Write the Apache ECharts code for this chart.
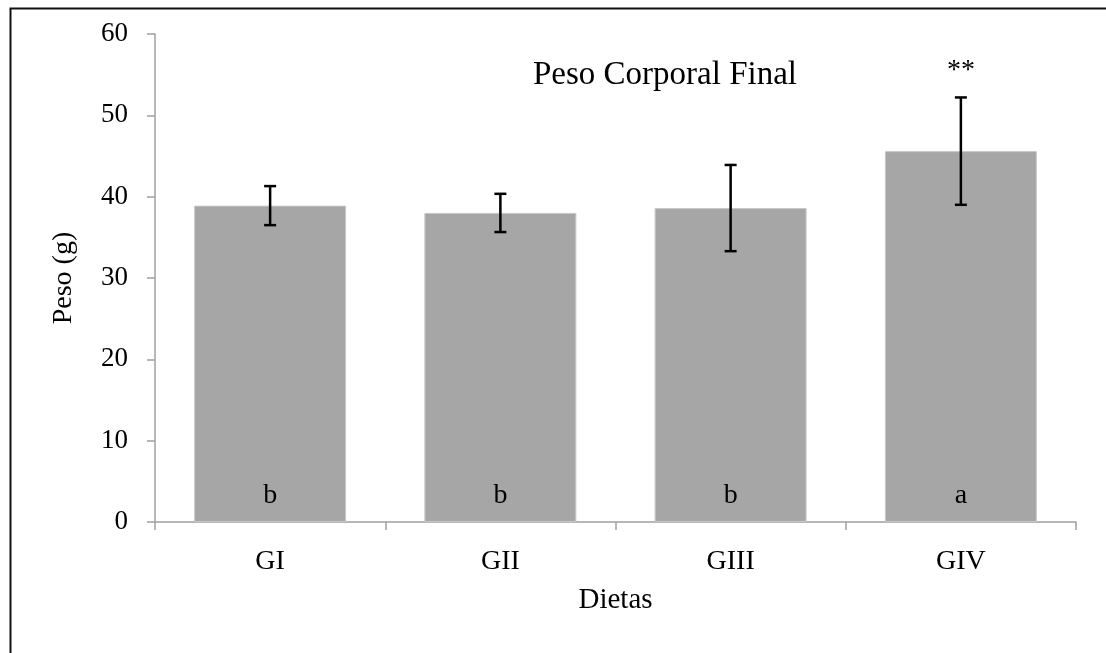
<!DOCTYPE html>
<html>
<head>
<meta charset="utf-8">
<script src="https://cdn.jsdelivr.net/npm/echarts@6/dist/echarts.min.js"></script>
<style>html,body{margin:0;padding:0;background:#fff;}#c{width:1106px;height:653px;}</style>
</head>
<body>
<div id="c"></div>
<script>
var categories = ['GI', 'GII', 'GIII', 'GIV'];
var means = [38.9, 38.0, 38.6, 45.6];
var errors = [2.4, 2.35, 5.3, 6.6];
var letters = ['b', 'b', 'b', 'a'];
var marks = ['', '', '', '**'];
var yTicks = [0, 10, 20, 30, 40, 50, 60];

var serif = '"Liberation Serif", "Times New Roman", serif';
var chart = echarts.init(document.getElementById('c'), null, {renderer: 'canvas'});

var errData = categories.map(function (c, i) {
  return [i, means[i] - errors[i], means[i] + errors[i], marks[i]];
});

chart.setOption({
  animation: false,
  backgroundColor: '#fff',
  title: {
    text: 'Peso Corporal Final',
    left: 660, top: 54, textAlign: 'center',
    textStyle: {fontFamily: serif, fontSize: 33, fontWeight: 'normal', color: '#000'}
  },
  graphic: [{
    type: 'rect', left: 8, top: 6, silent: true,
    shape: {x: 0, y: 0, width: 1200, height: 800},
    style: {fill: 'none', stroke: '#111', lineWidth: 2}
  }],
  grid: {left: 155, right: 30, top: 34, bottom: 131},
  xAxis: {
    type: 'category',
    data: categories,
    name: 'Dietas',
    nameLocation: 'middle',
    nameGap: 64,
    nameTextStyle: {fontFamily: serif, fontSize: 29, color: '#000'},
    axisLine: {lineStyle: {color: '#a0a0a0', width: 1.5}},
    axisTick: {show: true, length: 8, lineStyle: {color: '#a0a0a0', width: 1.5}},
    axisLabel: {fontFamily: serif, fontSize: 28, color: '#000', margin: 26}
  },
  yAxis: {
    type: 'value',
    min: 0, max: 60, interval: 10,
    name: 'Peso (g)',
    nameLocation: 'middle',
    nameGap: 77,
    nameTextStyle: {fontFamily: serif, fontSize: 28, color: '#000'},
    axisLine: {show: true, lineStyle: {color: '#a0a0a0', width: 1.5}},
    axisTick: {show: true, length: 8, lineStyle: {color: '#a0a0a0', width: 1.5}},
    splitLine: {show: false},
    axisLabel: {
      fontFamily: serif, fontSize: 27, color: '#000', margin: 27,
      formatter: function (v) { return yTicks.indexOf(v) >= 0 ? String(v) : ''; }
    }
  },
  series: [{
    type: 'bar',
    data: means,
    barCategoryGap: '34%',
    itemStyle: {color: '#a6a6a6', borderColor: '#c8c8c8', borderWidth: 1},
    label: {
      show: true, position: 'insideBottom', distance: 12,
      formatter: function (p) { return letters[p.dataIndex]; },
      fontFamily: serif, fontSize: 28, color: '#000'
    }
  }, {
    type: 'custom',
    data: errData,
    encode: {x: 0, y: [1, 2]},
    z: 10,
    renderItem: function (params, api) {
      var x = api.value(0);
      var lo = api.coord([x, api.value(1)]);
      var hi = api.coord([x, api.value(2)]);
      var cw = 6;
      var st = {stroke: '#000', lineWidth: 2.5};
      var children = [
        {type: 'line', shape: {x1: lo[0], y1: lo[1], x2: hi[0], y2: hi[1]}, style: st},
        {type: 'line', shape: {x1: lo[0] - cw, y1: lo[1], x2: lo[0] + cw, y2: lo[1]}, style: st},
        {type: 'line', shape: {x1: hi[0] - cw, y1: hi[1], x2: hi[0] + cw, y2: hi[1]}, style: st}
      ];
      var m = marks[params.dataIndex];
      if (m) {
        children.push({
          type: 'text',
          style: {
            text: m, x: hi[0], y: hi[1] - 27, align: 'center', verticalAlign: 'middle',
            font: '28px ' + serif, fill: '#000'
          }
        });
      }
      return {type: 'group', children: children};
    }
  }]
});
</script>
</body>
</html>
